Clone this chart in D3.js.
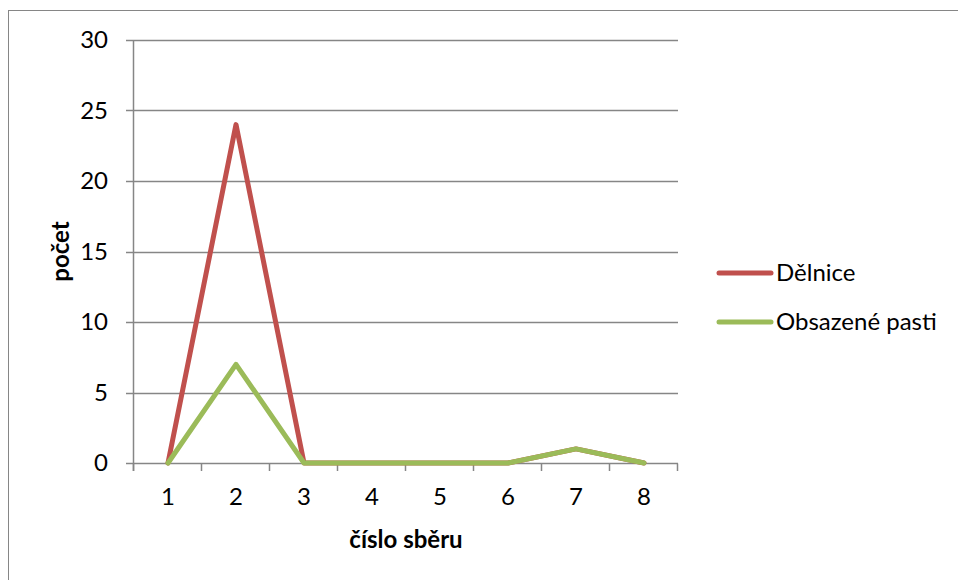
<!DOCTYPE html>
<html>
<head>
<meta charset="utf-8">
<script src="https://cdn.jsdelivr.net/npm/d3@7"></script>
<style>
  html, body { margin: 0; padding: 0; background: #fff; }
  svg { display: block; }
</style>
</head>
<body>
<svg id="chart" width="958" height="580"></svg>
<script>
// Sampling rounds and counts per round
const categories = ["1", "2", "3", "4", "5", "6", "7", "8"];
const delnice = [0, 24, 0, 0, 0, 0, 1, 0];
const obsazenePasti = [0, 7, 0, 0, 0, 0, 1, 0];
const yTicks = [0, 5, 10, 15, 20, 25, 30];
const seriesNames = ["Dělnice", "Obsazené pasti"];
const seriesColors = ["#C0504D", "#9BBB59"];

const svg = d3.select("#chart");
const font = "Lato, 'Open Sans', sans-serif";
const fontSize = 24;
const gridColor = "#868686";

// Outer chart frame
svg.append("rect")
  .attr("x", 8.5).attr("y", 10.5)
  .attr("width", 960).attr("height", 580)
  .attr("fill", "none").attr("stroke", gridColor).attr("stroke-width", 1);

const plot = { left: 134, right: 678, top: 40, bottom: 463 };

const x = d3.scaleBand().domain(categories).range([plot.left, plot.right]);
const y = d3.scaleLinear().domain([0, 30]).range([plot.bottom, plot.top]);

// Horizontal gridlines with left tick stubs
svg.append("g")
  .selectAll("line")
  .data(yTicks)
  .join("line")
  .attr("x1", plot.left - 8).attr("x2", plot.right)
  .attr("y1", d => Math.round(y(d)) + 0.5).attr("y2", d => Math.round(y(d)) + 0.5)
  .attr("stroke", gridColor).attr("stroke-width", 1.5);

// Y axis line
svg.append("line")
  .attr("x1", plot.left - 0.5).attr("x2", plot.left - 0.5)
  .attr("y1", plot.top).attr("y2", plot.bottom + 8)
  .attr("stroke", gridColor).attr("stroke-width", 1.5);

// X axis ticks at category boundaries
const bounds = categories.map(c => x(c)).concat([plot.right]);
svg.append("g")
  .selectAll("line")
  .data(bounds)
  .join("line")
  .attr("x1", d => Math.round(d) - 0.5).attr("x2", d => Math.round(d) - 0.5)
  .attr("y1", Math.round(y(0)) + 0.5).attr("y2", Math.round(y(0)) + 8)
  .attr("stroke", gridColor).attr("stroke-width", 1.5);

// Y tick labels
svg.append("g")
  .selectAll("text")
  .data(yTicks)
  .join("text")
  .attr("x", 108).attr("y", d => y(d))
  .attr("dy", "0.35em")
  .attr("text-anchor", "end")
  .attr("font-family", font).attr("font-size", fontSize)
  .attr("fill", "#000")
  .text(d => d);

// X category labels
svg.append("g")
  .selectAll("text")
  .data(categories)
  .join("text")
  .attr("x", d => x(d) + x.bandwidth() / 2).attr("y", 497)
  .attr("dy", "0.35em")
  .attr("text-anchor", "middle")
  .attr("font-family", font).attr("font-size", fontSize)
  .attr("fill", "#000")
  .text(d => d);

// Axis titles
svg.append("text")
  .attr("x", (plot.left + plot.right) / 2).attr("y", 540)
  .attr("dy", "0.35em")
  .attr("text-anchor", "middle")
  .attr("font-family", font).attr("font-size", fontSize).attr("font-weight", "bold")
  .text("číslo sběru");

svg.append("text")
  .attr("transform", `translate(61, ${(plot.top + plot.bottom) / 2}) rotate(-90)`)
  .attr("dy", "0.35em")
  .attr("text-anchor", "middle")
  .attr("font-family", font).attr("font-size", fontSize).attr("font-weight", "bold")
  .text("počet");

// Series lines
const line = d3.line()
  .x((d, i) => x(categories[i]) + x.bandwidth() / 2)
  .y(d => y(d));

[delnice, obsazenePasti].forEach((vals, i) => {
  svg.append("path")
    .datum(vals)
    .attr("d", line)
    .attr("fill", "none")
    .attr("stroke", seriesColors[i])
    .attr("stroke-width", 5)
    .attr("stroke-linejoin", "round")
    .attr("stroke-linecap", "round");
});

// Legend
const legend = svg.append("g");
seriesNames.forEach((name, i) => {
  const ly = 273 + i * 49;
  legend.append("line")
    .attr("x1", 719).attr("x2", 771)
    .attr("y1", ly).attr("y2", ly)
    .attr("stroke", seriesColors[i]).attr("stroke-width", 5)
    .attr("stroke-linecap", "round");
  legend.append("text")
    .attr("x", 776).attr("y", ly)
    .attr("dy", "0.35em")
    .attr("font-family", font).attr("font-size", fontSize)
    .attr("fill", "#000")
    .text(name);
});
</script>
</body>
</html>
